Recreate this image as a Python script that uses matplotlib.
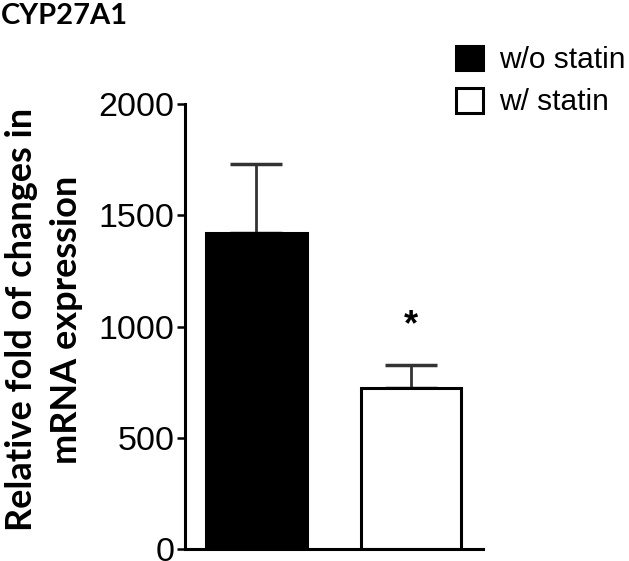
import numpy as np
import matplotlib.pyplot as plt

groups = ["w/o statin", "w/ statin"]
means = [1420, 725]
sems = [310, 100]
colors = ["black", "white"]
yticks = [0, 500, 1000, 1500, 2000]

fig = plt.figure(figsize=(6.29, 5.61), dpi=100)
ax = fig.add_axes([0.294, 0.0214, 0.474, 0.793])

x = np.arange(len(groups))
bars = ax.bar(x, means, width=0.65, color=colors, edgecolor="black",
              linewidth=2.2, label=groups, zorder=2)
ax.errorbar(x, means, yerr=[np.zeros(len(sems)), sems], fmt="none",
            ecolor="#333333", elinewidth=2.0, capsize=19, capthick=2.5, zorder=1)

ax.text(x[1], 1005, "*", ha="center", va="center", fontsize=26,
        fontweight="bold", family="Liberation Sans")

ax.set_xlim(-0.46, 1.465)
ax.set_ylim(0, 2000)
ax.set_yticks(yticks)
ax.set_xticks([])
ax.spines["top"].set_visible(False)
ax.spines["right"].set_visible(False)
ax.spines["left"].set_linewidth(2.2)
ax.spines["bottom"].set_linewidth(2.2)
ax.tick_params(axis="y", length=6, width=1.8, labelsize=24.5, pad=1.5)
for lab in ax.get_yticklabels():
    lab.set_family("Liberation Sans")

fig.text(0.07, 0.43, "Relative fold of changes in\nmRNA expression",
         rotation=90, ha="center", va="center", fontsize=26,
         fontweight="bold", family="Lato", linespacing=1.42)

fig.text(0.002, 0.995, "CYP27A1", ha="left", va="top", fontsize=21,
         fontweight="bold", family="Lato")

leg = fig.legend(handles=list(bars), labels=groups, loc="upper left",
                 bbox_to_anchor=(0.706, 0.94), frameon=False,
                 prop={"family": "Liberation Sans", "size": 21.5},
                 handlelength=0.9, handleheight=0.9, handletextpad=0.55,
                 labelspacing=0.45, borderaxespad=0)

fig.savefig("out.png", dpi=100)
